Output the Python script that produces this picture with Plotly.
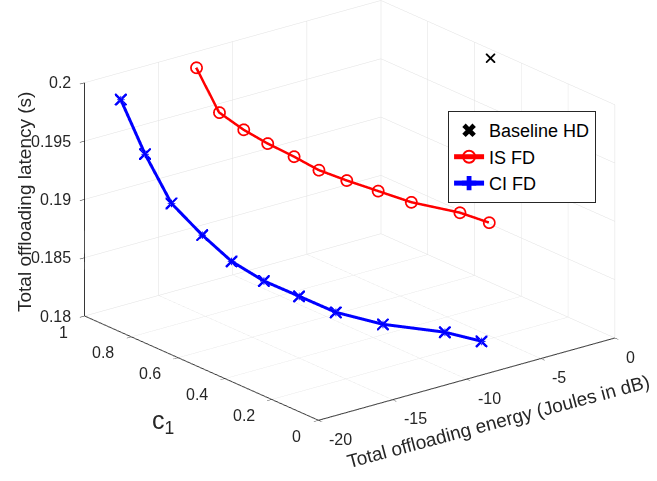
import plotly.graph_objects as go

# c1 weights (same for both curves)
c1_vals = [1.0, 0.9, 0.8, 0.7, 0.6, 0.5, 0.4, 0.3, 0.2, 0.1, 0.0]

# CI FD
ci_energy = [-17.56, -17.5, -17.3, -16.8, -16.4, -15.8, -15.0, -14.1, -12.5, -9.9, -9.0]
ci_latency = [0.1977, 0.1939, 0.1905, 0.1885, 0.1870, 0.1860, 0.1853, 0.1845, 0.1838, 0.1831, 0.1829]

# IS FD
is_energy = [-12.47, -12.5, -12.44, -12.4, -12.2, -12.1, -11.8, -11.26, -10.6, -8.9, -8.5]
is_latency = [0.19864, 0.1957, 0.1951, 0.1948, 0.1945, 0.1942, 0.1941, 0.1939, 0.1936, 0.1930, 0.1929]

# Baseline HD
hd_energy = [-0.5]
hd_c1 = [0.5]
hd_latency = [0.1997]

# axis ticks
x_ticks = [-20, -15, -10, -5, 0]
x_ticktext = ["-20", "-15", "-10", "-5", "0"]
y_ticks = [0, 0.2, 0.4, 0.6, 0.8, 1]
y_ticktext = ["0", "0.2", "0.4", "0.6", "0.8", "1"]
z_ticks = [0.18, 0.185, 0.19, 0.195, 0.2]
z_ticktext = ["0.18", "0.185", "0.19", "0.195", "0.2"]

FONT = "Liberation Sans, Arial, sans-serif"
TXT = "#262626"
S = 1.57
VIEW = (-0.580, -0.735, 0.352)
CEN = (-0.069, 0.055, -0.134)

fig = go.Figure()
fig.add_trace(go.Scatter3d(
    x=hd_energy, y=hd_c1, z=hd_latency, mode="markers", name="Baseline HD",
    marker=dict(symbol="x", size=2.2, color="black")))
fig.add_trace(go.Scatter3d(
    x=is_energy, y=c1_vals, z=is_latency, mode="lines+markers", name="IS FD",
    line=dict(color="#ff0000", width=5),
    marker=dict(symbol="circle-open", size=7, color="#ff0000", line=dict(width=3, color="#ff0000"))))
fig.add_trace(go.Scatter3d(
    x=ci_energy, y=c1_vals, z=ci_latency, mode="lines+markers", name="CI FD",
    line=dict(color="#0000ff", width=6),
    marker=dict(symbol="cross", size=4.2, color="#0000ff")))
fig.add_trace(go.Scatter3d(
    x=ci_energy, y=c1_vals, z=ci_latency, mode="markers", name="CI FD",
    showlegend=False,
    marker=dict(symbol="x", size=2.8, color="#0000ff", opacity=0.99)))

axis_common = dict(
    showbackground=False, gridcolor="#e0e0e0", gridwidth=1,
    showline=True, linecolor="#1a1a1a", linewidth=2,
    ticks="outside", tickcolor="#1a1a1a", ticklen=6, tickwidth=1,
    zeroline=False, showspikes=False, showticklabels=False,
    title=dict(text=""),
)

# tick labels as scene annotations (horizontal text, like the reference)
ann3d = []
for v, t in zip(z_ticks, z_ticktext):
    ann3d.append(dict(x=-20, y=1, z=v, text=t, showarrow=False,
                      xanchor="right", yanchor="middle", xshift=-12, yshift=0,
                      font=dict(family=FONT, size=16, color=TXT)))
for v, t in zip(y_ticks, y_ticktext):
    ann3d.append(dict(x=-20, y=v, z=0.18, text=t, showarrow=False,
                      xanchor="right", yanchor="middle", xshift=-15, yshift=-16,
                      font=dict(family=FONT, size=16, color=TXT)))
for v, t in zip(x_ticks, x_ticktext):
    ann3d.append(dict(x=v, y=0, z=0.18, text=t, showarrow=False,
                      xanchor="left", yanchor="middle", xshift=9, yshift=-19,
                      font=dict(family=FONT, size=16, color=TXT)))

fig.update_layout(
    width=657, height=481,
    paper_bgcolor="white",
    margin=dict(l=0, r=0, t=0, b=0),
    font=dict(family=FONT, color=TXT),
    scene=dict(
        domain=dict(x=[0, 1], y=[0, 1]),
        xaxis=dict(axis_common, range=[-20, 0], tickvals=x_ticks),
        yaxis=dict(axis_common, range=[0, 1], tickvals=y_ticks),
        zaxis=dict(axis_common, range=[0.18, 0.2], tickvals=z_ticks),
        aspectmode="manual", aspectratio=dict(x=1 * S, y=1 * S, z=0.66 * S),
        camera=dict(projection=dict(type="orthographic"),
                    eye=dict(x=CEN[0] + VIEW[0] * 2, y=CEN[1] + VIEW[1] * 2, z=CEN[2] + VIEW[2] * 2),
                    up=dict(x=0, y=0, z=1), center=dict(x=CEN[0], y=CEN[1], z=CEN[2])),
        annotations=ann3d,
    ),
    annotations=[
        dict(xref="paper", yref="paper", x=24 / 657, y=1 - 202 / 481,
             text="Total offloading latency (s)", textangle=-90, showarrow=False,
             xanchor="center", yanchor="middle",
             font=dict(family=FONT, size=19, color=TXT)),
        dict(xref="paper", yref="paper", x=498 / 657, y=1 - 421 / 481,
             text="Total offloading energy (Joules in dB)", textangle=-15, showarrow=False,
             xanchor="center", yanchor="middle",
             font=dict(family=FONT, size=19, color=TXT)),
        dict(xref="paper", yref="paper", x=163 / 657, y=1 - 422 / 481,
             text="c<sub>1</sub>", showarrow=False,
             xanchor="center", yanchor="middle",
             font=dict(family=FONT, size=25, color=TXT)),
    ],
    legend=dict(x=0.682, y=0.769, xanchor="left", yanchor="top",
                bgcolor="white", bordercolor=TXT, borderwidth=1,
                font=dict(family=FONT, size=18, color="black"),
                tracegroupgap=0, itemsizing="constant"),
)

fig.write_html("out.html")
